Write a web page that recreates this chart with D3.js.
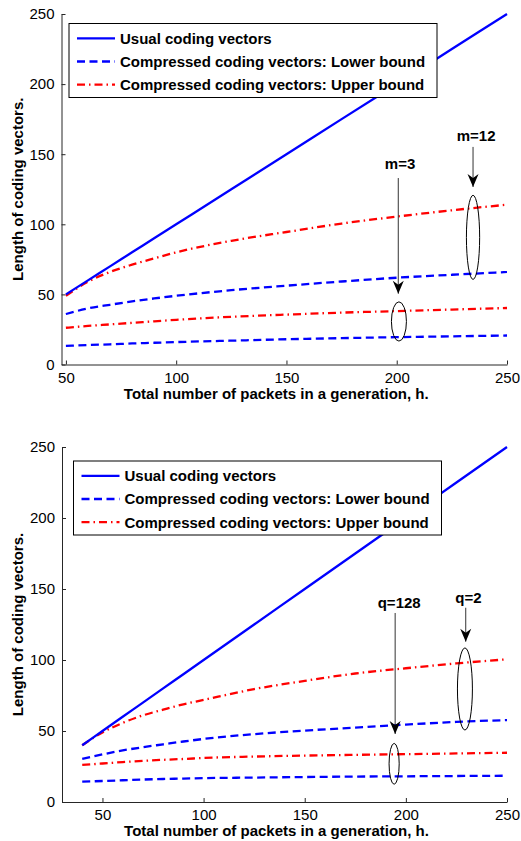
<!DOCTYPE html>
<html>
<head>
<meta charset="utf-8">
<script src="https://cdn.jsdelivr.net/npm/d3@7"></script>
<style>
  body { margin: 0; background: #fff; }
  svg { display: block; font-family: "Liberation Sans", Arial, sans-serif; }
  .tick-label { font-size: 15px; fill: #000; }
  .bold { font-weight: bold; font-size: 15px; fill: #000; }
</style>
</head>
<body>
<svg id="chart" width="521" height="841"></svg>
<script>
// ---- top panel: m = 3 and m = 12 ----
const hTop = [50, 60, 70, 80, 90, 100, 125, 150, 175, 200, 225, 250];
const usualTop = [50, 60, 70, 80, 90, 100, 125, 150, 175, 200, 225, 250];
const upperM12 = [49, 59, 66, 71.2, 75.7, 80, 88.2, 94.5, 100.5, 105.5, 110, 114];
const lowerM12 = [36, 40, 42.6, 45, 47.1, 49, 53, 56.2, 59.2, 61.9, 64, 66];
const upperM3 = [26.2, 27.5, 28.6, 29.7, 30.8, 31.9, 34, 35.6, 37, 38.1, 39.2, 40.3];
const lowerM3 = [13.3, 13.9, 14.4, 15, 15.5, 16, 17, 18, 18.8, 19.5, 20.1, 20.7];

// ---- bottom panel: q = 2 and q = 128 ----
const hBot = [40, 50, 60, 70, 80, 90, 100, 125, 150, 175, 200, 225, 250];
const usualBot = [40, 50, 60, 70, 80, 90, 100, 125, 150, 175, 200, 225, 250];
const upperQ2 = [40, 49, 55.7, 61, 65, 68.8, 71.9, 79.5, 85.3, 90.5, 94.2, 97.6, 100.5];
const lowerQ2 = [30.3, 33.5, 36.3, 38.6, 40.6, 42.6, 44.4, 47.8, 50.3, 52.4, 54.5, 56.4, 57.7];
const upperQ128 = [26.1, 27.1, 28.1, 29, 29.7, 30.3, 31, 32, 32.7, 33.2, 33.7, 34.2, 34.7];
const lowerQ128 = [14.3, 14.8, 15.3, 15.8, 16.2, 16.5, 16.8, 17.2, 17.6, 17.9, 18.1, 18.3, 18.5];

const xTicks = [50, 100, 150, 200, 250];
const yTicks = [0, 50, 100, 150, 200, 250];
const legendLabels = [
  "Usual coding vectors",
  "Compressed coding vectors: Lower bound",
  "Compressed coding vectors: Upper bound",
];
const xTitle = "Total number of packets in a generation, h.";
const yTitle = "Length of coding vectors.";

const BLUE = "#0000ff";
const RED = "#ff0000";
const DASH = "8,4.5";
const DASHDOT = "8,4,1.5,4";

const svg = d3.select("#chart");

// arrow head, pointing along +x, tip at the origin
svg.append("defs")
  .append("marker")
  .attr("id", "head")
  .attr("viewBox", "-14 -7 15 14")
  .attr("refX", 0)
  .attr("refY", 0)
  .attr("markerWidth", 15)
  .attr("markerHeight", 14)
  .attr("markerUnits", "userSpaceOnUse")
  .attr("orient", "auto")
  .append("path")
  .attr("d", "M0,0 L-13,-5.5 L-9,0 L-13,5.5 Z")
  .attr("fill", "#000");

function drawPanel(cfg) {
  const x = d3.scaleLinear().domain(cfg.xDomain).range(cfg.xRange);
  const y = d3.scaleLinear().domain([0, 250]).range(cfg.yRange);
  const g = svg.append("g");

  // axes (MATLAB style: ticks inward, box off)
  const xAxis = g.append("g")
    .attr("transform", `translate(0,${cfg.yRange[0]})`)
    .call(d3.axisBottom(x).tickValues(xTicks).tickSizeInner(-4).tickSizeOuter(0).tickPadding(7));
  const yAxis = g.append("g")
    .attr("transform", `translate(${cfg.xRange[0]},0)`)
    .call(d3.axisLeft(y).tickValues(yTicks).tickSizeInner(-4).tickSizeOuter(0).tickPadding(7));
  [xAxis, yAxis].forEach((a) => {
    a.select(".domain").attr("stroke", "#262626").attr("stroke-width", 1);
    a.selectAll(".tick line").attr("stroke", "#262626");
    a.selectAll(".tick text").attr("class", "tick-label").attr("font-family", null).attr("font-size", null);
  });
  xAxis.selectAll(".tick text").attr("dy", "0.76em");

  // series
  const line = (hs) => d3.line().x((d, i) => x(hs[i])).y((d) => y(d)).curve(d3.curveMonotoneX);
  const series = [
    { values: cfg.lowerSmall, color: BLUE, dash: DASH },
    { values: cfg.upperSmall, color: RED, dash: DASHDOT },
    { values: cfg.lowerBig, color: BLUE, dash: DASH },
    { values: cfg.upperBig, color: RED, dash: DASHDOT },
    { values: cfg.usual, color: BLUE, dash: null },
  ];
  g.append("g").selectAll("path")
    .data(series)
    .join("path")
    .attr("d", (s) => line(cfg.h)(s.values))
    .attr("fill", "none")
    .attr("stroke", (s) => s.color)
    .attr("stroke-width", 2.3)
    .attr("stroke-dasharray", (s) => s.dash);

  // annotations: arrows and ellipses
  const ann = g.append("g");
  cfg.notes.forEach((n) => {
    ann.append("line")
      .attr("x1", x(n.h)).attr("x2", x(n.h))
      .attr("y1", y(n.from)).attr("y2", y(n.to))
      .attr("stroke", "#333").attr("stroke-width", 1)
      .attr("marker-end", "url(#head)");
    ann.append("ellipse")
      .attr("cx", x(n.eh)).attr("cy", y(n.ev))
      .attr("rx", x(n.eh + n.erx) - x(n.eh))
      .attr("ry", y(n.ev - n.ery) - y(n.ev))
      .attr("fill", "none").attr("stroke", "#000").attr("stroke-width", 1);
    ann.append("text")
      .attr("class", "bold")
      .attr("x", x(n.th)).attr("y", y(n.tv))
      .attr("text-anchor", "middle")
      .attr("dy", "0.36em")
      .text(n.label);
  });

  // axis titles
  const xMid = (cfg.xRange[0] + cfg.xRange[1]) / 2 - 8;
  g.append("text").attr("class", "bold")
    .attr("x", xMid).attr("y", cfg.yRange[0] + 34)
    .attr("text-anchor", "middle").text(xTitle);
  g.append("text").attr("class", "bold")
    .attr("transform", `translate(23,${(cfg.yRange[0] + cfg.yRange[1]) / 2}) rotate(-90)`)
    .attr("text-anchor", "middle").text(yTitle);

  // legend
  const lg = g.append("g").attr("transform", `translate(${cfg.legend[0]},${cfg.legend[1]})`);
  lg.append("rect")
    .attr("width", 368).attr("height", 74)
    .attr("fill", "#fff").attr("stroke", "#000").attr("stroke-width", 1);
  const rows = [
    { color: BLUE, dash: null },
    { color: BLUE, dash: DASH },
    { color: RED, dash: DASHDOT },
  ];
  rows.forEach((r, i) => {
    const ry = 14.8 + i * 23.2;
    lg.append("line")
      .attr("x1", 8).attr("x2", 46).attr("y1", ry).attr("y2", ry)
      .attr("stroke", r.color).attr("stroke-width", 2.3)
      .attr("stroke-dasharray", r.dash);
    lg.append("text").attr("class", "bold")
      .attr("x", 51).attr("y", ry).attr("dy", "0.36em")
      .text(legendLabels[i]);
  });
}

drawPanel({
  h: hTop,
  usual: usualTop,
  upperBig: upperM12,
  lowerBig: lowerM12,
  upperSmall: upperM3,
  lowerSmall: lowerM3,
  xDomain: [48, 250],
  xRange: [61.5, 507],
  yRange: [364.5, 14],
  legend: [69, 23.5],
  notes: [
    { label: "m=3", h: 200.7, from: 133, to: 50.5, eh: 201, ev: 30.7, erx: 3.4, ery: 14, th: 201.5, tv: 143.6 },
    { label: "m=12", h: 234.6, from: 155.2, to: 126.6, eh: 234.6, ev: 90.7, erx: 3, ery: 30, th: 236, tv: 163.6 },
  ],
});

drawPanel({
  h: hBot,
  usual: usualBot,
  upperBig: upperQ2,
  lowerBig: lowerQ2,
  upperSmall: upperQ128,
  lowerSmall: lowerQ128,
  xDomain: [30, 250],
  xRange: [62, 507],
  yRange: [802, 447],
  legend: [73.5, 461],
  notes: [
    { label: "q=128", h: 194.7, from: 133.1, to: 47.9, eh: 194.2, ev: 26.9, erx: 2.5, ery: 14.4, th: 196.7, tv: 140.4 },
    { label: "q=2", h: 229.6, from: 136.8, to: 112.9, eh: 229.2, ev: 79.6, erx: 3.7, ery: 28.9, th: 230.9, tv: 144.2 },
  ],
});
</script>
</body>
</html>
